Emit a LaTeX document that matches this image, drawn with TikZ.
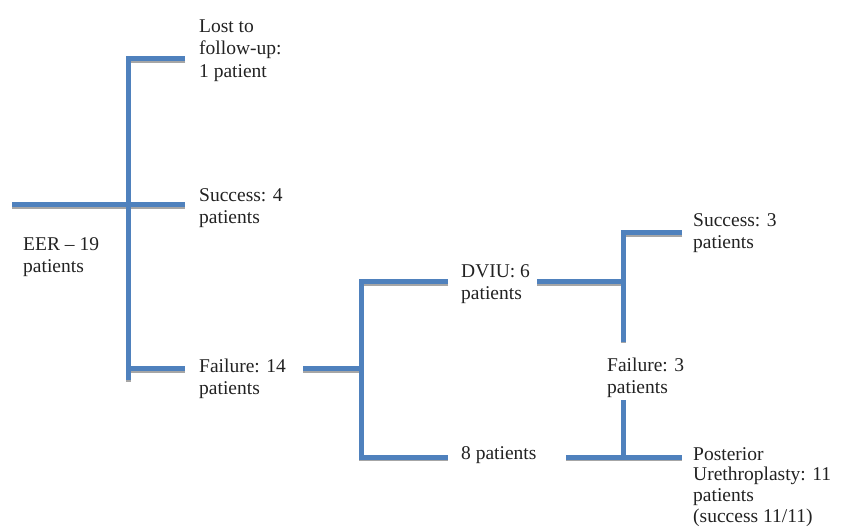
\documentclass[tikz,border=0pt]{standalone}
\usepackage{fontspec}
\setmainfont{Liberation Serif}
\definecolor{barblue}{HTML}{4F81BD}
\definecolor{txt}{HTML}{222222}
\begin{document}
\begin{tikzpicture}[x=1pt,y=-1pt,
  bar/.style={line width=5pt, draw=barblue, line join=miter, line cap=butt},
  shadowbar/.style={line width=5pt, draw=gray!70, line join=miter, line cap=butt},
  lbl/.style={anchor=north west, inner sep=0pt, align=left, text=txt,
    font=\fontsize{19.5}{22.5}\selectfont}]
\useasboundingbox (0,0) rectangle (841,529);
% text nodes
\node[lbl] (lost) at (199,16.25) {\strut Lost to\\follow-up:\\1 patient};
\node[lbl] (succ4) at (199,185.25) {\strut Success: 4\\patients};
\node[lbl] (eer) at (23,234.25) {\strut EER -- 19\\patients};
\node[lbl] (fail14) at (199,356.25) {\strut Failure: 14\\patients};
\node[lbl] (dviu) at (461,261.25) {\strut DVIU: 6\\patients};
\node[lbl] (eight) at (461,443.25) {\strut 8 patients};
\node[lbl] (succ3) at (693,210.25) {\strut Success: 3\\patients};
\node[lbl] (fail3) at (607,355.25) {\strut Failure: 3\\patients};
\node[lbl, font=\fontsize{19.5}{20.8}\selectfont] (post) at (693,445.4) {\strut Posterior\\Urethroplasty: 11\\patients\\(success 11/11)};
% coordinates
\coordinate (e0) at (12,205);
\coordinate (e1) at (185,205);
\coordinate (t1) at (185,59);
\coordinate (t0) at (128,59);
\coordinate (v1) at (128,380);
\coordinate (f0) at (128,369);
\coordinate (f1) at (185,369);
\coordinate (g0) at (303,369);
\coordinate (g1) at (361,369);
\coordinate (d1) at (448,282);
\coordinate (d0) at (361,282);
\coordinate (b0) at (361,457);
\coordinate (b1) at (448,457);
\coordinate (h0) at (537,282);
\coordinate (h1) at (623,282);
\coordinate (s1) at (682,233);
\coordinate (s0) at (623,233);
\coordinate (s2) at (623,342);
\coordinate (u0) at (623,400);
\coordinate (u1) at (623,457);
\coordinate (p0) at (566,457);
\coordinate (p1) at (682,457);
% shadows
\begin{scope}[transform canvas={xshift=0.4pt, yshift=-1.5pt}]
\draw[shadowbar] (e0) -- (e1);
\draw[shadowbar] (t1) -- (t0) -- (v1);
\draw[shadowbar] (f0) -- (f1);
\draw[shadowbar] (g0) -- (g1);
\draw[shadowbar] (d1) -- (d0) -- (b0) -- (b1);
\draw[shadowbar] (h0) -- (h1);
\draw[shadowbar] (s1) -- (s0) -- (s2);
\draw[shadowbar] (u0) -- (u1);
\draw[shadowbar] (p0) -- (p1);
\end{scope}
% connectors
\draw[bar] (e0) -- (e1);
\draw[bar] (t1) -- (t0) -- (v1);
\draw[bar] (f0) -- (f1);
\draw[bar] (g0) -- (g1);
\draw[bar] (d1) -- (d0) -- (b0) -- (b1);
\draw[bar] (h0) -- (h1);
\draw[bar] (s1) -- (s0) -- (s2);
\draw[bar] (u0) -- (u1);
\draw[bar] (p0) -- (p1);
\end{tikzpicture}
\end{document}
